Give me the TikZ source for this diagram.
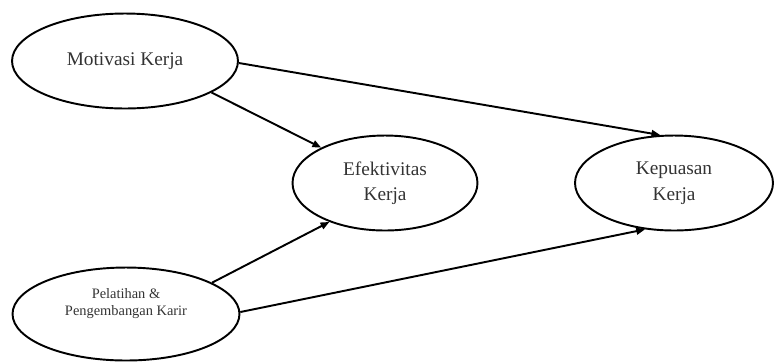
\documentclass[tikz,border=0pt]{standalone}
\usepackage{fontspec}
\setmainfont{Liberation Serif}
\usepackage{tikz}
\usetikzlibrary{arrows.meta,shapes.geometric}
\definecolor{txtgray}{HTML}{333333}

\begin{document}
\begin{tikzpicture}[
  x=0.02cm, y=-0.02cm,
  var/.style={ellipse, draw=black, line width=1.1pt, inner sep=0pt,
    minimum height=1.9cm, font=\fontsize{11}{14.5}\selectfont, text=txtgray, align=center},
  arr/.style={-{Triangle[length=5pt,width=4pt]}, line width=1.1pt, black}
]
  \useasboundingbox (0,0) rectangle (776,363);

  \node[var, minimum width=4.52cm] (motivasi) at (125,61) {Motivasi Kerja};
  \node[var, minimum width=4.54cm, minimum height=1.86cm, align=none,
    font=\fontsize{8.2}{11.3}\selectfont] (pelatihan) at (126,314)
    {\raisebox{6pt}[\height][\depth]{\shortstack{Pelatihan \&\\[1pt]Pengembangan Karir}}};
  \node[var, minimum width=3.7cm] (efektivitas) at (385,183) {Efektivitas\\Kerja};
  \node[var, minimum width=3.96cm] (kepuasan) at (674,183) {Kepuasan\\Kerja};

  \draw[arr] (motivasi.-20) -- (efektivitas.151);
  \draw[arr] (motivasi.-1) -- (kepuasan.106);
  \draw[arr] (pelatihan.20) -- (efektivitas.215);
  \draw[arr] (pelatihan.1) -- (kepuasan.238);
\end{tikzpicture}
\end{document}
